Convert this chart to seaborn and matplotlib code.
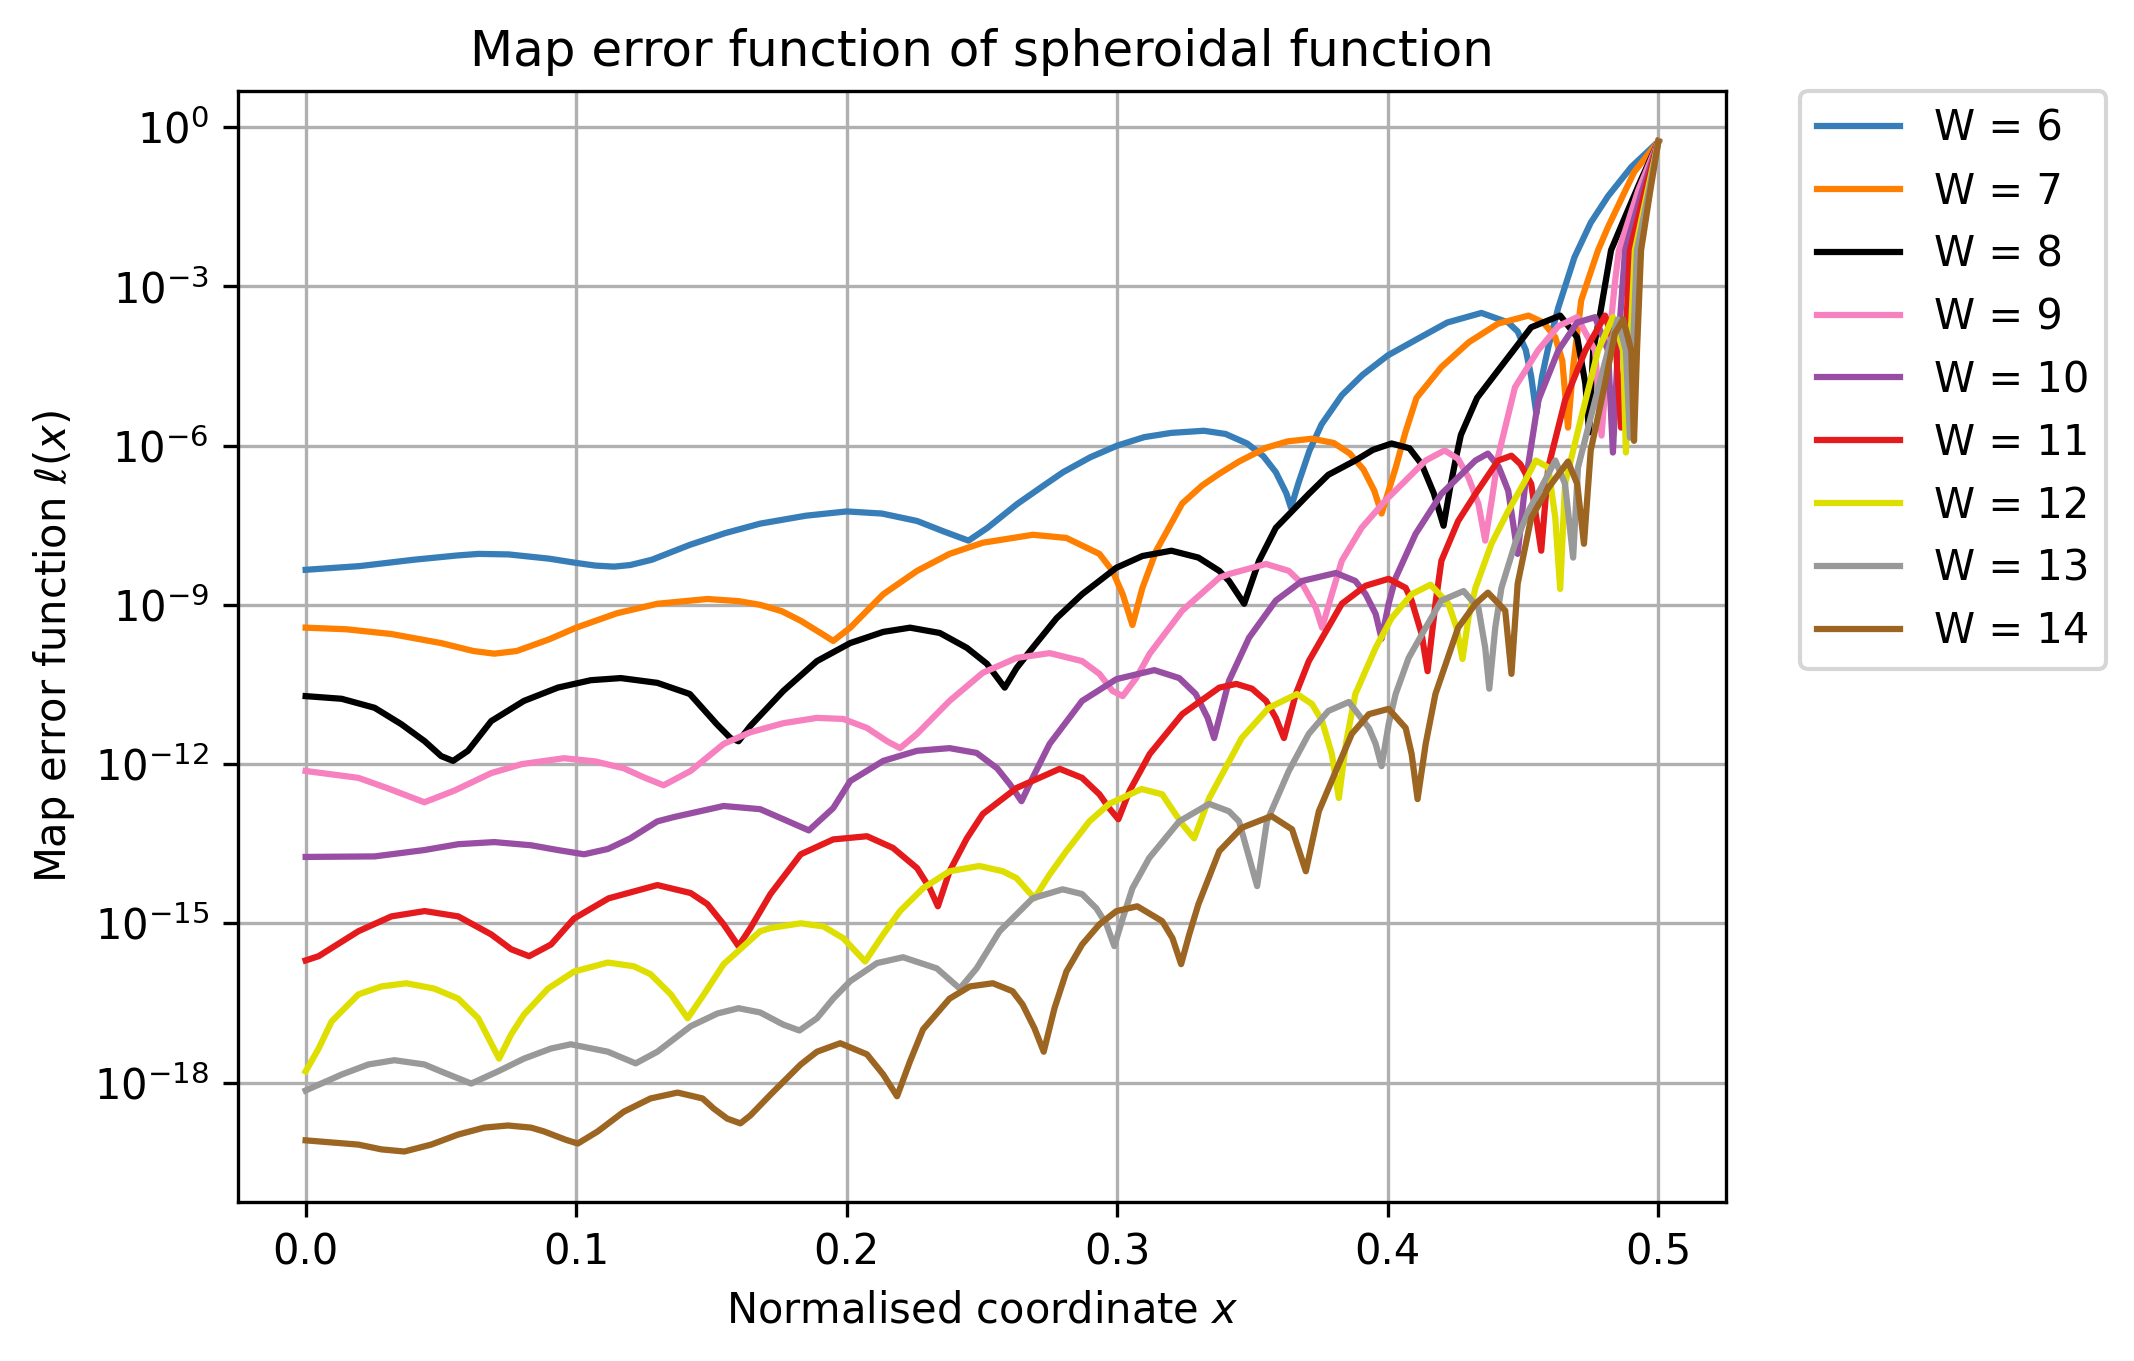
import numpy as np
import pandas as pd
import seaborn as sns
import matplotlib.pyplot as plt

# points: (x, log10 of the map error)
w6 = [(0.0, -8.34), (0.02, -8.27), (0.04, -8.15), (0.056, -8.07), (0.064, -8.04), (0.075, -8.05), (0.09, -8.13),
      (0.1, -8.21), (0.107, -8.26), (0.114, -8.28), (0.12, -8.25), (0.128, -8.15), (0.142, -7.87), (0.155, -7.65),
      (0.168, -7.47), (0.185, -7.32), (0.2, -7.24), (0.213, -7.28), (0.226, -7.42), (0.236, -7.62), (0.245, -7.79),
      (0.252, -7.55), (0.263, -7.1), (0.272, -6.78), (0.28, -6.5), (0.29, -6.22), (0.3, -6.0), (0.31, -5.84),
      (0.32, -5.76), (0.332, -5.72), (0.34, -5.78), (0.348, -5.96), (0.354, -6.2), (0.3586, -6.5), (0.3625, -6.9),
      (0.3642, -7.17), (0.367, -6.7), (0.371, -6.1), (0.3755, -5.6), (0.383, -5.05), (0.3906, -4.67), (0.4, -4.3),
      (0.4106, -4.0), (0.422, -3.68), (0.4346, -3.5), (0.4445, -3.68), (0.448, -3.85), (0.451, -4.2), (0.453, -4.7),
      (0.4549, -5.4), (0.457, -4.7), (0.4593, -4.15), (0.463, -3.4), (0.469, -2.45), (0.475, -1.8), (0.4814, -1.3),
      (0.49, -0.75), (0.5, -0.27)]
w7 = [(0.0, -9.43), (0.015, -9.46), (0.0317, -9.55), (0.05, -9.72), (0.062, -9.87), (0.0697, -9.92), (0.078, -9.87),
      (0.09, -9.65), (0.1, -9.43), (0.115, -9.16), (0.13, -8.98), (0.1485, -8.89), (0.16, -8.93), (0.168, -9.0),
      (0.176, -9.12), (0.183, -9.3), (0.19, -9.52), (0.195, -9.68), (0.2013, -9.43), (0.2135, -8.8), (0.226, -8.36),
      (0.238, -8.04), (0.2503, -7.83), (0.2688, -7.68), (0.2812, -7.74), (0.2934, -8.04), (0.2982, -8.36),
      (0.302, -8.8), (0.3056, -9.38), (0.3093, -8.68), (0.3144, -7.98), (0.324, -7.09), (0.3314, -6.75),
      (0.3377, -6.53), (0.345, -6.3), (0.355, -6.04), (0.363, -5.92), (0.372, -5.87), (0.38, -5.95), (0.386, -6.15),
      (0.391, -6.45), (0.395, -6.85), (0.3977, -7.28), (0.4, -6.9), (0.403, -6.4), (0.4065, -5.75), (0.4106, -5.1),
      (0.4198, -4.52), (0.43, -4.05), (0.4408, -3.7), (0.452, -3.55), (0.4575, -3.68), (0.4619, -3.96),
      (0.4645, -4.4), (0.4666, -5.66), (0.4685, -4.52), (0.4715, -3.26), (0.4777, -2.32), (0.4814, -1.88),
      (0.491, -0.85), (0.5, -0.27)]
w8 = [(0.0, -10.72), (0.0133, -10.77), (0.0255, -10.94), (0.0354, -11.25), (0.044, -11.57), (0.0501, -11.85),
      (0.0545, -11.94), (0.06, -11.75), (0.0686, -11.19), (0.0807, -10.81), (0.0932, -10.56), (0.1054, -10.42),
      (0.1165, -10.38), (0.13, -10.47), (0.142, -10.68), (0.152, -11.25), (0.157, -11.51), (0.16, -11.57),
      (0.1644, -11.28), (0.1766, -10.62), (0.189, -10.06), (0.2013, -9.72), (0.2135, -9.51), (0.2234, -9.43),
      (0.2344, -9.53), (0.2444, -9.81), (0.2518, -10.11), (0.2584, -10.56), (0.2628, -10.19), (0.2687, -9.81),
      (0.2776, -9.25), (0.287, -8.8), (0.2997, -8.3), (0.3093, -8.08), (0.32, -7.98), (0.33, -8.11), (0.3377, -8.36),
      (0.3413, -8.55), (0.3469, -8.98), (0.3524, -8.17), (0.3586, -7.55), (0.3708, -6.91), (0.378, -6.55),
      (0.388, -6.28), (0.3945, -6.08), (0.4014, -5.96), (0.408, -6.05), (0.4125, -6.35), (0.417, -6.9),
      (0.4206, -7.51), (0.423, -6.8), (0.425, -6.28), (0.427, -5.8), (0.433, -5.1), (0.4408, -4.58), (0.453, -3.77),
      (0.4637, -3.55), (0.47, -3.96), (0.473, -4.83), (0.4744, -5.75), (0.4759, -4.21), (0.4785, -3.51),
      (0.4825, -2.32), (0.4877, -1.69), (0.4935, -1.0), (0.5, -0.27)]
w9 = [(0.0, -12.13), (0.0195, -12.26), (0.03, -12.45), (0.0439, -12.72), (0.055, -12.5), (0.0686, -12.17),
      (0.08, -12.0), (0.0955, -11.89), (0.107, -11.95), (0.1176, -12.08), (0.125, -12.25), (0.1323, -12.4),
      (0.1423, -12.13), (0.1545, -11.62), (0.1644, -11.4), (0.1766, -11.23), (0.189, -11.13), (0.1987, -11.15),
      (0.2075, -11.32), (0.2149, -11.57), (0.2197, -11.7), (0.226, -11.43), (0.238, -10.81), (0.2503, -10.28),
      (0.2628, -10.0), (0.275, -9.91), (0.287, -10.06), (0.2934, -10.3), (0.2982, -10.62), (0.302, -10.72),
      (0.307, -10.38), (0.312, -9.92), (0.324, -9.11), (0.3377, -8.49), (0.3413, -8.42), (0.355, -8.23),
      (0.3634, -8.36), (0.3683, -8.6), (0.3734, -9.06), (0.3757, -9.43), (0.3793, -8.8), (0.383, -8.17),
      (0.3903, -7.55), (0.399, -7.04), (0.4077, -6.6), (0.414, -6.28), (0.421, -6.09), (0.426, -6.25),
      (0.4298, -6.6), (0.4335, -7.1), (0.436, -7.79), (0.4385, -7.0), (0.4408, -6.2), (0.447, -4.9),
      (0.4556, -4.2), (0.463, -3.75), (0.47, -3.58), (0.4766, -4.21), (0.479, -5.81), (0.4814, -4.21),
      (0.4839, -2.95), (0.4854, -2.32), (0.4925, -1.2), (0.5, -0.27)]
w10 = [(0.0, -13.75), (0.0255, -13.74), (0.0439, -13.62), (0.0564, -13.51), (0.0697, -13.47), (0.0833, -13.53),
       (0.0932, -13.62), (0.1029, -13.7), (0.1117, -13.6), (0.12, -13.4), (0.13, -13.08), (0.136, -13.0),
       (0.1545, -12.79), (0.168, -12.85), (0.1766, -13.04), (0.186, -13.25), (0.195, -12.83), (0.2013, -12.32),
       (0.2135, -11.94), (0.226, -11.75), (0.238, -11.7), (0.248, -11.79), (0.2556, -12.08), (0.2603, -12.38),
       (0.2646, -12.7), (0.2687, -12.26), (0.275, -11.62), (0.287, -10.81), (0.2997, -10.4), (0.3137, -10.23),
       (0.3229, -10.38), (0.329, -10.68), (0.3334, -11.13), (0.3358, -11.51), (0.3387, -10.94), (0.3413, -10.43),
       (0.3487, -9.62), (0.3586, -8.92), (0.3683, -8.55), (0.3808, -8.4), (0.388, -8.55), (0.3918, -8.8),
       (0.3955, -9.17), (0.3977, -9.64), (0.4003, -8.98), (0.4029, -8.49), (0.4103, -7.66), (0.4198, -6.91),
       (0.4324, -6.28), (0.437, -6.15), (0.441, -6.4), (0.4445, -6.85), (0.448, -8.04), (0.4508, -6.72),
       (0.4556, -5.15), (0.463, -4.21), (0.47, -3.68), (0.4766, -3.58), (0.4814, -4.21), (0.4832, -6.13),
       (0.485, -4.21), (0.4877, -2.32), (0.494, -1.2), (0.5, -0.27)]
w11 = [(0.0, -15.7), (0.0048, -15.62), (0.0195, -15.15), (0.0317, -14.87), (0.044, -14.77), (0.0564, -14.87),
       (0.0686, -15.21), (0.076, -15.49), (0.0826, -15.62), (0.0907, -15.4), (0.0992, -14.91), (0.112, -14.53),
       (0.13, -14.28), (0.1423, -14.43), (0.1485, -14.64), (0.1545, -15.02), (0.16, -15.43), (0.1644, -15.09),
       (0.1718, -14.45), (0.183, -13.7), (0.195, -13.42), (0.2075, -13.36), (0.2171, -13.58), (0.226, -13.96),
       (0.2307, -14.34), (0.2337, -14.68), (0.238, -14.02), (0.2444, -13.4), (0.2503, -12.94), (0.2628, -12.45),
       (0.2787, -12.09), (0.287, -12.26), (0.2934, -12.57), (0.297, -12.83), (0.3004, -13.04), (0.3045, -12.51),
       (0.312, -11.81), (0.324, -11.06), (0.3377, -10.56), (0.344, -10.49), (0.3498, -10.58), (0.355, -10.81),
       (0.3586, -11.13), (0.3616, -11.51), (0.366, -10.68), (0.3708, -10.06), (0.383, -8.98), (0.3918, -8.64),
       (0.4003, -8.51), (0.4066, -8.68), (0.4088, -8.92), (0.4125, -9.55), (0.4147, -10.25), (0.4176, -8.98),
       (0.4198, -8.17), (0.426, -7.42), (0.4324, -6.91), (0.4408, -6.28), (0.4457, -6.19), (0.449, -6.35),
       (0.453, -6.72), (0.4567, -7.98), (0.4593, -6.41), (0.4655, -5.15), (0.473, -4.21), (0.4803, -3.55),
       (0.4844, -4.21), (0.4862, -5.66), (0.4877, -4.21), (0.4895, -2.32), (0.495, -1.2), (0.5, -0.27)]
w12 = [(0.0, -17.79), (0.0048, -17.36), (0.0096, -16.85), (0.0195, -16.34), (0.028, -16.19), (0.0372, -16.13),
       (0.0475, -16.23), (0.0564, -16.42), (0.0638, -16.79), (0.0715, -17.55), (0.076, -17.09), (0.0807, -16.72),
       (0.0896, -16.23), (0.0992, -15.91), (0.1117, -15.74), (0.1213, -15.81), (0.1275, -15.96), (0.135, -16.34),
       (0.1412, -16.79), (0.1472, -16.34), (0.1545, -15.77), (0.168, -15.15), (0.1718, -15.09), (0.183, -15.0),
       (0.1914, -15.06), (0.1987, -15.28), (0.2068, -15.72), (0.2135, -15.21), (0.2197, -14.77), (0.2282, -14.34),
       (0.238, -14.02), (0.249, -13.92), (0.2577, -14.02), (0.2628, -14.15), (0.2694, -14.53), (0.275, -14.08),
       (0.2812, -13.64), (0.2897, -13.08), (0.297, -12.75), (0.309, -12.47), (0.3166, -12.57), (0.32, -12.83),
       (0.324, -13.13), (0.3284, -13.4), (0.334, -12.64), (0.346, -11.51), (0.356, -10.94), (0.3664, -10.68),
       (0.372, -10.87), (0.3757, -11.19), (0.3793, -11.81), (0.3819, -12.64), (0.3845, -11.62), (0.388, -10.68),
       (0.3955, -9.81), (0.4014, -9.25), (0.4088, -8.8), (0.4158, -8.62), (0.4224, -8.98), (0.4254, -9.43),
       (0.4276, -10.02), (0.4298, -9.25), (0.4324, -8.68), (0.4383, -7.85), (0.4445, -7.23), (0.4508, -6.66),
       (0.4547, -6.28), (0.4593, -6.41), (0.4619, -7.36), (0.4637, -8.7), (0.4655, -6.72), (0.4715, -5.47),
       (0.4777, -4.21), (0.4832, -3.58), (0.487, -4.21), (0.488, -6.13), (0.4895, -4.21), (0.4913, -2.32),
       (0.496, -1.2), (0.5, -0.27)]
w13 = [(0.0, -18.15), (0.0133, -17.85), (0.0232, -17.66), (0.0328, -17.58), (0.0439, -17.66), (0.05, -17.79),
       (0.0612, -18.02), (0.0711, -17.79), (0.0807, -17.55), (0.0907, -17.36), (0.098, -17.28), (0.1117, -17.42),
       (0.122, -17.64), (0.13, -17.42), (0.1423, -16.94), (0.1522, -16.7), (0.16, -16.6), (0.168, -16.68),
       (0.1766, -16.91), (0.1825, -17.02), (0.189, -16.79), (0.195, -16.42), (0.2013, -16.09), (0.2112, -15.75),
       (0.2208, -15.64), (0.2333, -15.85), (0.238, -16.06), (0.2418, -16.23), (0.248, -15.85), (0.2565, -15.15),
       (0.2687, -14.53), (0.2798, -14.36), (0.287, -14.45), (0.2923, -14.72), (0.296, -15.02), (0.2989, -15.43),
       (0.302, -14.91), (0.3056, -14.34), (0.3118, -13.77), (0.3229, -13.08), (0.334, -12.75), (0.3413, -12.89),
       (0.345, -13.08), (0.3517, -14.3), (0.3553, -13.08), (0.3634, -12.13), (0.3708, -11.43), (0.378, -11.0),
       (0.3856, -10.83), (0.393, -11.32), (0.3955, -11.62), (0.3977, -12.04), (0.4003, -11.25), (0.4029, -10.68),
       (0.4077, -10.0), (0.414, -9.43), (0.4198, -8.92), (0.428, -8.74), (0.4335, -9.06), (0.436, -9.81),
       (0.4375, -10.58), (0.4397, -9.43), (0.442, -8.68), (0.447, -7.85), (0.452, -7.23), (0.4567, -6.79),
       (0.4619, -6.28), (0.4655, -6.72), (0.4685, -8.11), (0.4703, -6.41), (0.4766, -5.15), (0.4814, -4.21),
       (0.485, -3.62), (0.488, -4.21), (0.4895, -5.85), (0.4906, -4.21), (0.4921, -2.32), (0.4965, -1.2),
       (0.5, -0.27)]
w14 = [(0.0, -19.09), (0.0195, -19.17), (0.028, -19.26), (0.0365, -19.3), (0.0464, -19.17), (0.0564, -18.98),
       (0.066, -18.85), (0.0748, -18.81), (0.0833, -18.85), (0.088, -18.92), (0.0962, -19.08), (0.1006, -19.15),
       (0.108, -18.92), (0.1176, -18.55), (0.1275, -18.3), (0.1375, -18.19), (0.1467, -18.3), (0.1508, -18.49),
       (0.1558, -18.68), (0.1607, -18.77), (0.1644, -18.62), (0.1718, -18.23), (0.183, -17.66), (0.189, -17.42),
       (0.1976, -17.26), (0.2075, -17.47), (0.2135, -17.85), (0.2186, -18.26), (0.2234, -17.6), (0.2282, -17.0),
       (0.238, -16.42), (0.2455, -16.19), (0.254, -16.13), (0.2613, -16.28), (0.265, -16.53), (0.2694, -16.98),
       (0.2728, -17.42), (0.2768, -16.6), (0.2812, -15.91), (0.287, -15.4), (0.2934, -15.02), (0.2997, -14.77),
       (0.3074, -14.68), (0.3166, -14.96), (0.3204, -15.28), (0.3236, -15.77), (0.3266, -15.21), (0.33, -14.64),
       (0.3377, -13.64), (0.346, -13.2), (0.357, -12.98), (0.3646, -13.23), (0.3697, -14.02), (0.3745, -12.89),
       (0.3808, -12.13), (0.3867, -11.43), (0.393, -11.06), (0.4003, -10.96), (0.4066, -11.32), (0.4088, -11.81),
       (0.411, -12.66), (0.414, -11.62), (0.4176, -10.68), (0.426, -9.43), (0.4324, -8.98), (0.437, -8.77),
       (0.4434, -9.11), (0.4457, -10.3), (0.448, -8.6), (0.453, -7.36), (0.4593, -6.8), (0.4666, -6.3),
       (0.47, -6.72), (0.4725, -7.85), (0.475, -6.09), (0.4803, -4.83), (0.4839, -3.89), (0.487, -3.62),
       (0.49, -4.21), (0.491, -5.91), (0.4921, -4.21), (0.4936, -2.32), (0.497, -1.2), (0.5, -0.27)]

curves = [w6, w7, w8, w9, w10, w11, w12, w13, w14]
labels = ['W = 6', 'W = 7', 'W = 8', 'W = 9', 'W = 10', 'W = 11', 'W = 12', 'W = 13', 'W = 14']
colours = ['#377eb8', '#ff7f00', '#000000', '#f781bf', '#984ea3',
           '#e41a1c', '#dede00', '#999999', '#9c6522']

frames = []
for lab, pts in zip(labels, curves):
    arr = np.array(pts)
    frames.append(pd.DataFrame({'x': arr[:, 0], 'err': 10.0 ** arr[:, 1], 'W': lab}))
df = pd.concat(frames, ignore_index=True)

fig = plt.figure(figsize=(2134 / 300, 1361 / 300), dpi=300)
ax = fig.add_axes([238 / 2134, 159 / 1361, 1488 / 2134, 1111 / 1361])

sns.lineplot(data=df, x='x', y='err', hue='W', palette=dict(zip(labels, colours)),
             estimator=None, sort=False, linewidth=1.5, ax=ax)
ax.set_yscale('log')
ax.grid(True)

ax.set_title('Map error function of spheroidal function')
ax.set_xlabel('Normalised coordinate $x$')
ax.set_ylabel(r'Map error function $\ell(x)$')
ax.legend(bbox_to_anchor=(1.05, 1), loc='upper left', borderaxespad=0.)

fig.savefig('out.png', dpi=300)
